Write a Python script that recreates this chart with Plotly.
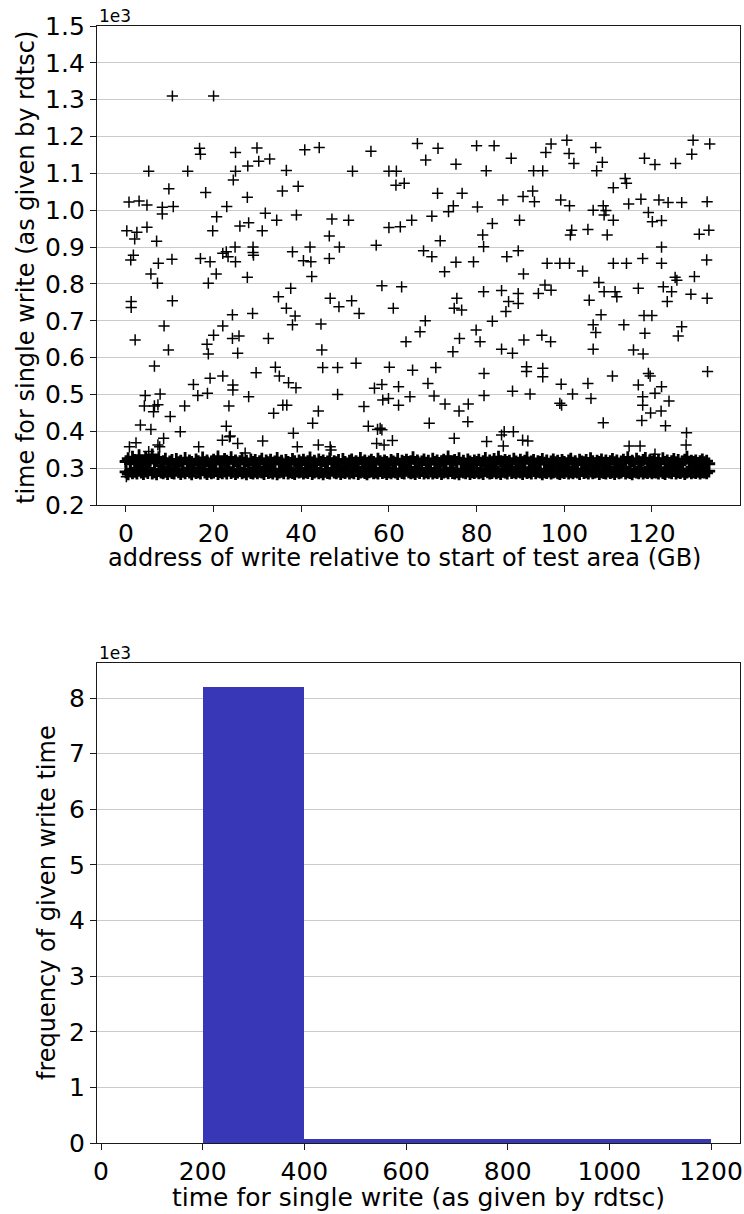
import plotly.graph_objects as go

# ---------------- data ----------------
# dense band of ordinary writes (address in GB, time in cycles)
band_gb = [
    0, 0.5, 1, 1.5, 2, 2.5, 3, 3.5, 4, 4.5, 5, 5.5, 6, 6.5, 7, 7.5, 8, 8.5, 9, 9.5,
    10, 10.5, 11, 11.5, 12, 12.5, 13, 13.5, 14, 14.5, 15, 15.5, 16, 16.5, 17, 17.5, 18, 18.5, 19, 19.5,
    20, 20.5, 21, 21.5, 22, 22.5, 23, 23.5, 24, 24.5, 25, 25.5, 26, 26.5, 27, 27.5, 28, 28.5, 29, 29.5,
    30, 30.5, 31, 31.5, 32, 32.5, 33, 33.5, 34, 34.5, 35, 35.5, 36, 36.5, 37, 37.5, 38, 38.5, 39, 39.5,
    40, 40.5, 41, 41.5, 42, 42.5, 43, 43.5, 44, 44.5, 45, 45.5, 46, 46.5, 47, 47.5, 48, 48.5, 49, 49.5,
    50, 50.5, 51, 51.5, 52, 52.5, 53, 53.5, 54, 54.5, 55, 55.5, 56, 56.5, 57, 57.5, 58, 58.5, 59, 59.5,
    60, 60.5, 61, 61.5, 62, 62.5, 63, 63.5, 64, 64.5, 65, 65.5, 66, 66.5, 67, 67.5, 68, 68.5, 69, 69.5,
    70, 70.5, 71, 71.5, 72, 72.5, 73, 73.5, 74, 74.5, 75, 75.5, 76, 76.5, 77, 77.5, 78, 78.5, 79, 79.5,
    80, 80.5, 81, 81.5, 82, 82.5, 83, 83.5, 84, 84.5, 85, 85.5, 86, 86.5, 87, 87.5, 88, 88.5, 89, 89.5,
    90, 90.5, 91, 91.5, 92, 92.5, 93, 93.5, 94, 94.5, 95, 95.5, 96, 96.5, 97, 97.5, 98, 98.5, 99, 99.5,
    100, 100.5, 101, 101.5, 102, 102.5, 103, 103.5, 104, 104.5, 105, 105.5, 106, 106.5, 107, 107.5, 108, 108.5, 109, 109.5,
    110, 110.5, 111, 111.5, 112, 112.5, 113, 113.5, 114, 114.5, 115, 115.5, 116, 116.5, 117, 117.5, 118, 118.5, 119, 119.5,
    120, 120.5, 121, 121.5, 122, 122.5, 123, 123.5, 124, 124.5, 125, 125.5, 126, 126.5, 127, 127.5, 128, 128.5, 129, 129.5,
    130, 130.5, 131, 131.5, 132, 132.5, 133,
]
band_hi_cycles = [
    318, 326, 312, 330, 321, 315, 334, 319, 311, 327, 316, 322, 336, 314, 320, 329, 313, 318, 325, 312,
    317, 321, 310, 324, 315, 319, 312, 327, 314, 320, 316, 311, 323, 318, 313, 328, 315, 320, 312, 317,
    322, 314, 331, 316, 311, 324, 319, 313, 329, 315, 320, 312, 318, 326, 314, 319, 311, 323, 316, 321,
    313, 318, 325, 311, 320, 315, 322, 312, 317, 327, 314, 319, 310, 321, 316, 313, 324, 318, 311, 320,
    315, 322, 312, 318, 328, 314, 319, 311, 323, 316, 320, 313, 317, 326, 312, 318, 315, 321, 310, 324,
    316, 312, 319, 323, 314, 318, 311, 327, 315, 320, 313, 317, 322, 316, 311, 325, 318, 314, 320, 316,
    312, 321, 317, 314, 324, 311, 319, 316, 322, 313, 318, 329, 315, 320, 312, 317, 323, 314, 319, 311,
    325, 316, 320, 313, 318, 322, 315, 331, 317, 312, 321, 316, 326, 314, 319, 311, 323, 317, 313, 320,
    316, 322, 312, 318, 327, 314, 320, 315, 324, 311, 330, 318, 313, 321, 316, 319, 312, 325, 317, 314,
    322, 315, 319, 328, 313, 317, 321, 312, 318, 316, 324, 314, 320, 311, 317, 323, 315, 319, 313, 321,
    316, 312, 320, 325, 314, 318, 311, 322, 317, 315, 321, 313, 326, 318, 312, 319, 316, 323, 314, 320,
    313, 318, 324, 315, 320, 312, 317, 322, 316, 329, 314, 319, 311, 325, 318, 315, 321, 327, 313, 320,
    317, 323, 314, 319, 312, 326, 316, 320, 313, 318, 324, 315, 321, 311, 317, 322, 330, 314, 319, 316,
    320, 313, 318, 323, 315, 319, 312,
]
band_lo_cycles = [
    290, 284, 293, 287, 291, 286, 294, 289, 285, 292, 288, 295, 286, 290, 284, 293, 289, 287, 291, 285,
    292, 288, 286, 294, 290, 285, 291, 287, 293, 289, 284, 292, 288, 290, 286, 295, 289, 285, 291, 287,
    289, 293, 285, 290, 287, 292, 286, 294, 288, 291, 285, 289, 293, 287, 290, 284, 292, 288, 286, 291,
    287, 291, 289, 285, 293, 288, 290, 286, 292, 284, 289, 291, 287, 294, 286, 290, 288, 285, 292, 289,
    291, 286, 290, 288, 293, 285, 289, 292, 287, 290, 284, 291, 288, 286, 294, 289, 287, 291, 285, 290,
    288, 292, 286, 290, 287, 293, 285, 289, 291, 288, 284, 290, 292, 287, 289, 286, 293, 288, 290, 285,
    290, 287, 291, 289, 285, 292, 288, 286, 294, 290, 287, 289, 285, 291, 288, 293, 286, 290, 287, 292,
    286, 290, 288, 292, 285, 289, 291, 287, 293, 288, 286, 290, 284, 291, 289, 287, 292, 285, 290, 288,
    291, 287, 289, 285, 293, 290, 286, 288, 292, 287, 290, 285, 291, 289, 286, 294, 288, 290, 287, 291,
    289, 285, 292, 288, 290, 286, 293, 287, 291, 289, 284, 290, 288, 292, 286, 289, 291, 287, 285, 290,
    288, 292, 286, 290, 287, 291, 289, 285, 293, 288, 290, 286, 292, 287, 289, 291, 285, 290, 288, 286,
    292, 288, 290, 285, 291, 287, 289, 293, 286, 290, 288, 284, 291, 289, 287, 292, 286, 290, 288, 291,
    287, 290, 289, 286, 292, 288, 285, 291, 289, 287, 293, 286, 290, 288, 291, 285, 289, 292, 287, 290,
    288, 291, 286, 290, 289, 287, 292,
]

# slow writes (address in GB, time in cycles)
outlier_gb = [
    10.6, 20.0, 0.7, 3.0, 4.8, 5.2, 9.8, 8.3, 8.3, 10.8,
    14.1, 16.8, 17.0, 18.2, 20.7, 19.8, 23.0, 25.0, 25.0, 24.5,
    27.7, 27.8, 29.9, 30.3, 32.8, 31.8, 34.4, 31.1, 28.0, 26.0,
    36.6, 35.7, 39.3, 38.9, 40.8, 44.1, 47.0, 50.8, 46.4, 48.7,
    51.7, 55.9, 57.1, 42.0, 38.0, 29.0, 29.0, 24.9, 22.9, 4.8,
    2.5, 0.2, 2.0, 7.0, 66.5, 71.2, 68.4, 75.3, 80.0, 84.0,
    82.2, 87.9, 60.0, 61.7, 61.6, 63.5, 71.1, 76.7, 74.7, 73.6,
    80.2, 86.0, 90.6, 92.8, 93.2, 93.0, 95.1, 95.8, 97.0, 100.6,
    101.1, 102.2, 107.2, 107.4, 108.7, 99.2, 101.2, 106.6, 108.9, 109.5,
    111.2, 113.9, 114.2, 114.7, 117.5, 118.3, 120.7, 125.4, 129.1, 129.4,
    133.2, 121.6, 123.7, 126.8, 119.2, 120.1, 122.2, 132.6, 130.8, 133.0,
    122.2, 109.8, 101.7, 105.4, 101.4, 111.2, 109.1, 83.6, 89.8, 81.4,
    81.6, 89.5, 86.9, 71.7, 67.9, 69.8, 69.8, 60.0, 62.6, 65.2,
    1.1, 1.7, 1.2, 1.2, 2.1, 5.7, 7.2, 7.4, 10.5, 10.6,
    8.7, 9.7, 6.5, 4.4, 4.2, 3.3, 5.7, 6.5, 6.3, 7.3,
    7.8, 10.1, 8.6, 7.7, 2.3, 0.8, 5.2, 12.4, 13.4, 15.4,
    16.4, 18.6, 19.2, 22.1, 24.4, 24.4, 23.5, 28.0, 22.9, 22.0,
    23.6, 25.5, 16.6, 18.5, 18.8, 20.0, 22.1, 24.3, 24.3, 25.8,
    25.5, 28.9, 29.7, 31.2, 32.5, 33.7, 34.1, 35.0, 35.8, 36.7,
    37.1, 38.8, 38.2, 39.1, 34.8, 36.6, 37.6, 38.6, 38.0, 23.8,
    40.5, 42.2, 42.4, 44.5, 44.7, 44.9, 48.3, 42.6, 43.9, 43.9,
    46.6, 46.8, 48.3, 46.6, 48.6, 46.4, 51.5, 53.2, 52.5, 54.3,
    55.3, 56.7, 57.4, 57.2, 7.3, 0.1, 27.2, 17.0, 19.2, 22.1,
    23.3, 25.0, 29.1, 27.7, 18.8, 20.6, 72.7, 75.3, 79.3, 90.7,
    96.1, 99.0, 101.2, 104.2, 111.2, 114.2, 117.9, 122.2, 125.3, 125.7,
    129.7, 132.5, 58.4, 62.9, 61.0, 63.9, 67.1, 68.3, 74.6, 76.1,
    75.5, 74.9, 76.6, 79.9, 80.8, 81.6, 81.7, 83.6, 85.7, 87.3,
    86.7, 89.5, 89.5, 85.7, 88.2, 90.8, 94.1, 95.6, 97.0, 94.9,
    96.9, 91.4, 91.4, 95.1, 95.1, 88.2, 92.2, 99.3, 99.0, 99.4,
    101.9, 105.4, 106.1, 108.9, 111.0, 105.7, 107.9, 109.1, 111.6, 112.0,
    108.4, 106.6, 107.2, 106.6, 113.6, 116.9, 118.2, 120.0, 118.4, 115.8,
    118.0, 122.6, 124.5, 123.5, 128.9, 132.6, 126.8, 126.0, 132.7, 119.2,
    119.6, 116.9, 122.2, 117.9, 117.9, 120.7, 119.7, 122.1, 123.9, 117.7,
    123.1, 127.9, 127.8, 114.8, 117.3, 120.7, 58.4, 62.2, 58.6, 59.9,
    62.2, 64.8, 60.1, 65.4, 70.7, 68.9, 70.3, 72.8, 76.0, 78.1,
    78.0, 81.7, 69.2, 58.0, 58.4, 58.9, 60.8, 74.9, 82.3, 85.7,
    86.3, 88.4, 86.1, 90.5, 91.7,
]
outlier_cycles = [
    1310, 1310, 1022, 1025, 1014, 1106, 1058, 1008, 990, 1010,
    1106, 1168, 1152, 1048, 982, 944, 1010, 1157, 1106, 1082,
    1035, 1120, 1169, 1133, 1139, 992, 973, 944, 966, 957,
    1108, 1052, 1065, 987, 1164, 1170, 976, 973, 930, 900,
    1106, 1160, 905, 900, 887, 900, 885, 900, 887, 954,
    940, 944, 922, 916, 1181, 1168, 1136, 1125, 1175, 1175,
    1107, 1141, 1106, 1106, 1068, 1073, 1046, 1046, 1012, 996,
    1009, 1028, 1037, 1052, 1023, 1107, 1107, 1157, 1180, 1190,
    1154, 1127, 1170, 1107, 1130, 1028, 1012, 1000, 1012, 999,
    1061, 1086, 1073, 1017, 1030, 1141, 1124, 1127, 1152, 1190,
    1180, 1028, 1021, 1021, 994, 969, 972, 1023, 935, 946,
    900, 933, 946, 948, 933, 973, 987, 964, 973, 933,
    901, 890, 874, 917, 890, 874, 984, 953, 955, 973,
    865, 878, 752, 736, 648, 827, 802, 856, 867, 754,
    686, 621, 577, 497, 469, 417, 405, 469, 453, 472,
    501, 440, 381, 358, 369, 358, 345, 399, 469, 527,
    497, 503, 544, 550, 526, 512, 469, 494, 414, 376,
    385, 367, 358, 636, 610, 661, 686, 716, 652, 659,
    612, 720, 559, 374, 652, 449, 574, 550, 471, 471,
    532, 518, 395, 358, 765, 734, 788, 713, 689, 387,
    863, 860, 820, 691, 621, 573, 573, 422, 455, 363,
    358, 349, 500, 761, 738, 869, 754, 720, 585, 467,
    414, 517, 405, 367, 363, 277, 341, 869, 860, 883,
    874, 860, 878, 818, 802, 827, 833, 859, 860, 827,
    856, 856, 856, 835, 856, 856, 869, 856, 818, 810,
    820, 865, 795, 792, 734, 643, 670, 700, 616, 652,
    761, 734, 729, 675, 643, 779, 497, 699, 782, 752,
    725, 774, 747, 623, 612, 648, 774, 797, 783, 661,
    643, 575, 562, 571, 548, 509, 501, 528, 476, 471,
    501, 530, 489, 423, 550, 756, 804, 779, 779, 765,
    716, 689, 668, 623, 689, 788, 714, 714, 666, 621,
    610, 792, 779, 752, 772, 761, 684, 659, 562, 557,
    550, 526, 521, 494, 471, 503, 450, 455, 482, 429,
    415, 396, 363, 360, 360, 338, 527, 521, 485, 489,
    471, 494, 574, 566, 573, 530, 496, 474, 455, 474,
    426, 557, 422, 408, 404, 363, 375, 381, 372, 390,
    399, 399, 360, 376, 374,
]

# histogram of write times
hist_edges = [200, 400, 600, 800, 1000, 1200]
hist_counts = [8195, 78, 78, 78, 78]

top_x_ticks = [0, 20, 40, 60, 80, 100, 120]
top_y_ticks = [0.2, 0.3, 0.4, 0.5, 0.6, 0.7, 0.8, 0.9, 1.0, 1.1, 1.2, 1.3, 1.4, 1.5]
bottom_x_ticks = [0, 200, 400, 600, 800, 1000, 1200]
bottom_y_ticks = [0, 1, 2, 3, 4, 5, 6, 7, 8]

# ---------------- figure ----------------
W, H = 744, 1214
FONT = "DejaVu Sans"
LINE = "#1a1a1a"
GRID = "#cbcbcb"
TICK_SIZE = 25


def fx(p):
    return p / W


def fy(p):
    return 1 - p / H


marker = dict(symbol="cross-thin", size=8, line=dict(color="black", width=1.5))
band_marker = dict(symbol="cross-thin", size=9, line=dict(color="black", width=2.8))

fig = go.Figure()
fig.add_trace(go.Scatter(
    x=band_gb + band_gb,
    y=[v / 1000 for v in band_hi_cycles + band_lo_cycles],
    mode="markers", marker=band_marker, xaxis="x", yaxis="y",
    showlegend=False, hoverinfo="skip",
))
fig.add_trace(go.Scatter(
    x=outlier_gb, y=[v / 1000 for v in outlier_cycles],
    mode="markers", marker=marker, xaxis="x", yaxis="y",
    showlegend=False,
))

centers = [(a + b) / 2 for a, b in zip(hist_edges[:-1], hist_edges[1:])]
widths = [b - a for a, b in zip(hist_edges[:-1], hist_edges[1:])]
fig.add_trace(go.Bar(
    x=centers, y=[c / 1000 for c in hist_counts], width=widths,
    marker=dict(color="#3737b8", line=dict(width=0)),
    xaxis="x2", yaxis="y2", showlegend=False,
))

axis_common = dict(
    showline=True, linecolor=LINE, linewidth=1.3, mirror=True,
    ticks="outside", ticklen=6, tickwidth=1.2, tickcolor=LINE,
    tickfont=dict(family=FONT, size=TICK_SIZE, color="black"),
    zeroline=False, automargin=False,
)

xdom = [fx(97), fx(740)]
fig.update_layout(
    width=W, height=H,
    margin=dict(l=0, r=0, t=0, b=0),
    paper_bgcolor="white", plot_bgcolor="white",
    font=dict(family=FONT, color="black"),
    bargap=0,
    xaxis=dict(domain=xdom, anchor="y", range=[-6.6, 140.1],
               tickvals=top_x_ticks, showgrid=False, **axis_common),
    yaxis=dict(domain=[fy(505), fy(26)], anchor="x", range=[0.2, 1.5],
               tickvals=top_y_ticks, ticktext=[f"{t:.1f}" for t in top_y_ticks],
               showgrid=True, gridcolor=GRID, gridwidth=1.2, **axis_common),
    xaxis2=dict(domain=xdom, anchor="y2", range=[-8, 1257],
                tickvals=bottom_x_ticks, showgrid=False, **axis_common),
    yaxis2=dict(domain=[fy(1143), fy(663)], anchor="x2", range=[0, 8.63],
                tickvals=bottom_y_ticks, showgrid=True, gridcolor=GRID,
                gridwidth=1.2, layer="above traces", **axis_common),
)

ann_font = dict(family=FONT, size=24, color="black")
big_font = dict(family=FONT, size=25, color="black")
small_font = dict(family=FONT, size=17, color="black")
fig.add_annotation(text="1e3", x=fx(97), y=fy(16), xref="paper", yref="paper",
                   xanchor="left", yanchor="middle", showarrow=False, font=small_font)
fig.add_annotation(text="1e3", x=fx(97), y=fy(653), xref="paper", yref="paper",
                   xanchor="left", yanchor="middle", showarrow=False, font=small_font)
fig.add_annotation(text="time for single write (as given by rdtsc)", x=fx(26), y=fy(268),
                   xref="paper", yref="paper", textangle=-90, xanchor="center",
                   yanchor="middle", showarrow=False, font=ann_font)
fig.add_annotation(text="address of write relative to start of test area (GB)",
                   x=fx(404), y=fy(558), xref="paper", yref="paper",
                   xanchor="center", yanchor="middle", showarrow=False, font=ann_font)
fig.add_annotation(text="frequency of given write time", x=fx(47), y=fy(903),
                   xref="paper", yref="paper", textangle=-90, xanchor="center",
                   yanchor="middle", showarrow=False, font=ann_font)
fig.add_annotation(text="time for single write (as given by rdtsc)", x=fx(418.5), y=fy(1197),
                   xref="paper", yref="paper", xanchor="center", yanchor="middle",
                   showarrow=False, font=big_font)

fig.write_html("out.html", config={"displayModeBar": False})
